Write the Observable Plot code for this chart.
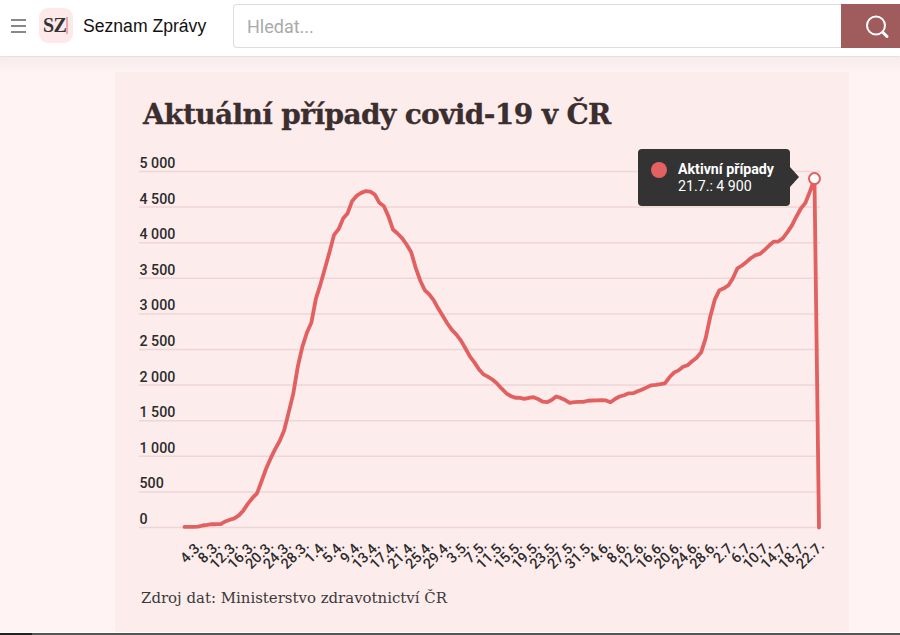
<!DOCTYPE html>
<html lang="cs">
<head>
<meta charset="utf-8">
<script src="https://cdn.jsdelivr.net/npm/d3@7"></script>
<script src="https://cdn.jsdelivr.net/npm/@observablehq/plot@0.6"></script>
<style>
html,body{margin:0;padding:0;width:900px;height:635px;overflow:hidden;background:#fff4f3;font-family:Roboto,sans-serif}
.abs{position:absolute}
#header{left:0;top:0;width:900px;height:56px;background:#fff;box-shadow:0 1px 2px rgba(0,0,0,.12)}
#fade{left:0;top:57px;width:900px;height:16px;background:linear-gradient(#f6ecec,#fff4f3)}
#card{left:115px;top:72px;width:734px;height:560px;background:#fdecec}
#strip{left:0;top:632px;width:900px;height:1.4px;background:#fff}
#foot{left:0;top:633.4px;width:900px;height:2px;background:linear-gradient(90deg,#222 0,#222 32px,#555 32px)}
.bar{left:11px;width:15px;height:2.4px;background:#888}
#logo{left:39px;top:8px;width:34px;height:35px;border-radius:9px;background:#fde9e9;font:bold 20px "Liberation Serif",serif;color:#333}
#logo span{position:absolute;left:4px;top:6px;letter-spacing:-.5px}
#logo i{position:absolute;left:27px;top:9px;width:2px;height:17px;background:#e8a8a8}
#brand{left:83px;top:16px;font:17.6px "Liberation Sans",Arial,sans-serif;color:#111}
#search{left:233px;top:4px;width:608px;height:42px;border:1px solid #ddd;border-right:none;border-radius:4px 0 0 4px;background:#fff;box-sizing:content-box}
#search span{position:absolute;left:13px;top:11px;font:18px Roboto,sans-serif;color:#aaa}
#btn{left:841px;top:4px;width:59px;height:44px;background:#a05c5c}
#title{left:143px;top:98px;font:bold 28px "DejaVu Serif",serif;letter-spacing:-.62px;color:#3a2e2e;white-space:nowrap;-webkit-text-stroke:.3px #3a2e2e}
#src{left:141px;top:589px;font:14.95px "DejaVu Serif",serif;color:#3a3a3a;white-space:nowrap}
#chart{left:115px;top:140px}
#chart svg{background:transparent;overflow:visible}
#tip{left:638px;top:149px;width:152px;height:57px;background:#333;border-radius:4px;color:#fff;font:14.2px Roboto,sans-serif}
#tip:after{content:"";position:absolute;left:152px;top:18px;border:10px solid transparent;border-left:9px solid #333;border-right:none}
#tip i{position:absolute;left:13px;top:13px;width:16px;height:16px;border-radius:50%;background:#e56060}
#tip b{position:absolute;left:40px;top:12px;font-weight:700;white-space:nowrap}
#tip span{position:absolute;left:40px;top:29px;white-space:nowrap}
</style>
</head>
<body>
<div id="header" class="abs"></div>
<div id="fade" class="abs"></div>
<div class="abs bar" style="top:19px"></div><div class="abs bar" style="top:25px"></div><div class="abs bar" style="top:30.5px"></div>
<div id="logo" class="abs"><span>SZ</span><i></i></div>
<div id="brand" class="abs">Seznam Zprávy</div>
<div id="search" class="abs"><span>Hledat...</span></div>
<div id="btn" class="abs"><svg width="59" height="44"><circle cx="35" cy="21.5" r="9" fill="none" stroke="#fff" stroke-width="2"/><path d="M42 28.5l4 4" stroke="#fff" stroke-width="3" stroke-linecap="round"/></svg></div>
<div id="card" class="abs"></div>
<div id="strip" class="abs"></div>
<div id="foot" class="abs"></div>
<div id="title" class="abs">Aktuální případy covid-19 v ČR</div>
<div id="chart" class="abs"></div>
<div id="tip" class="abs"><i></i><b>Aktivní případy</b><span>21.7.: 4 900</span></div>
<div id="src" class="abs">Zdroj dat: Ministerstvo zdravotnictví ČR</div>
<script>
const firstDay = "2020-03-04";
const activeCases = [
8,8,9,12,28,36,46,46,48,85,108,128,170,240,335,415,480,650,825,970,
1100,1215,1365,1620,1880,2260,2536,2735,2880,3215,3415,3640,3870,4110,4190,4340,4415,4587,4660,4700,
4725,4716,4675,4560,4513,4370,4185,4129,4065,3975,3870,3650,3470,3335,3275,3190,3075,2970,2865,2775,
2710,2625,2515,2400,2316,2220,2150,2115,2075,2020,1950,1885,1845,1822,1820,1806,1820,1830,1805,1768,
1760,1790,1840,1820,1790,1750,1760,1764,1764,1780,1784,1786,1788,1785,1760,1805,1840,1858,1884,1886,
1912,1938,1968,1997,2003,2013,2025,2110,2175,2207,2258,2279,2335,2385,2460,2660,2960,3200,3330,3360,
3400,3500,3640,3680,3730,3785,3825,3843,3900,3960,4015,4017,4060,4145,4240,4365,4480,4560,4720,4900,
0];
const yTicks = [0,500,1000,1500,2000,2500,3000,3500,4000,4500,5000];
const xLabels = ["4.3.","8.3.","12.3.","16.3.","20.3.","24.3.","28.3.","1.4.","5.4.","9.4.","13.4.","17.4.","21.4.","25.4.","29.4.","3.5.","7.5.","11.5.","15.5.","19.5.","23.5.","27.5.","31.5.","4.6.","8.6.","12.6.","16.6.","20.6.","24.6.","28.6.","2.7.","6.7.","10.7.","14.7.","18.7.","22.7."];
const highlightIndex = 139;

const DAY = 864e5;
const start = new Date(firstDay + "T00:00:00Z").getTime();
const dateAt = d => new Date(start + d * DAY);
const rows = activeCases.map((v, i) => ({date: dateAt(i), v}));
const fmt = v => d3.format(",")(v).replace(/,/g, " ");
const labelStep = 3.92;

const chart = Plot.plot({
  width: 734, height: 440,
  marginLeft: 24, marginRight: 29, marginTop: 31, marginBottom: 53,
  style: {background: "transparent", overflow: "visible"},
  x: {type: "utc", domain: [dateAt(0), dateAt(140)], range: [69, 703.5], axis: null},
  y: {domain: [0, 5000], axis: null},
  marks: [
    Plot.ruleY(yTicks, {stroke: "#eed6d6", strokeWidth: 1.5}),
    Plot.text(yTicks, {y: d => d, text: fmt, frameAnchor: "left", textAnchor: "start", dy: -8,
      fontSize: 14.2, fontWeight: 500, fontFamily: "Roboto", fill: "#2b2b2b"}),
    Plot.text(xLabels, {x: (d, i) => dateAt(i * labelStep), y: () => 0, text: d => d, rotate: -45, textAnchor: "end",
      lineAnchor: "middle", dx: 15.5, dy: 16, fontSize: 14.4, fontWeight: 500, fontFamily: "Roboto", fill: "#2b2b2b"}),
    Plot.line(rows, {x: "date", y: "v", stroke: "#e26060", strokeWidth: 3.8, strokeLinejoin: "round"}),
    Plot.dot([rows[highlightIndex]], {x: "date", y: "v", r: 5.5, fill: "#fff", stroke: "#e26060", strokeWidth: 2})
  ]
});
document.getElementById("chart").appendChild(chart);
</script>
</body>
</html>
